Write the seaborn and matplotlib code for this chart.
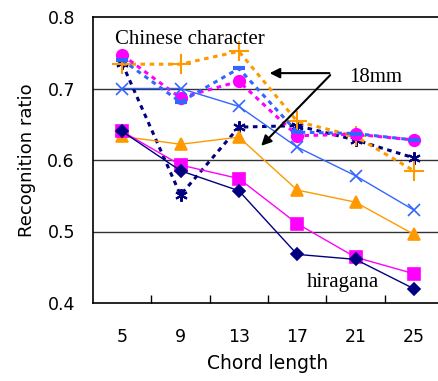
import numpy as np
import pandas as pd
import seaborn as sns
import matplotlib.pyplot as plt

chord = ["5", "9", "13", "17", "21", "25"]

# solid lines
hira_navy = [0.640, 0.585, 0.557, 0.468, 0.461, 0.420]
hira_magenta = [0.640, 0.593, 0.574, 0.511, 0.464, 0.441]
hira_orange = [0.633, 0.622, 0.632, 0.558, 0.541, 0.496]
hira_blue = [0.700, 0.700, 0.675, 0.618, 0.578, 0.530]

# dashed lines (Chinese character)
chin_navy = [0.735, 0.551, 0.646, 0.648, 0.628, 0.603]
chin_orange = [0.734, 0.734, 0.752, 0.654, 0.633, 0.585]
chin_magenta = [0.747, 0.687, 0.710, 0.634, 0.636, 0.628]
chin_blue = [0.740, 0.681, 0.728, 0.639, 0.637, 0.628]

navy = "#000080"
magenta = "#FF00FF"
orange = "#FF9900"
blue = "#3366FF"

series = [
    (chin_navy, navy, (6, 2, 0), 9, "dash"),
    (chin_orange, orange, "+", 14, "dash"),
    (chin_magenta, magenta, "o", 8, "dash"),
    (chin_blue, blue, "_", 9, "dash"),
    (hira_blue, blue, "x", 9, "solid"),
    (hira_orange, orange, "^", 9, "solid"),
    (hira_magenta, magenta, "s", 8, "solid"),
    (hira_navy, navy, "D", 6, "solid"),
]

fig = plt.figure(figsize=(4.38, 3.81), dpi=100)
ax = fig.add_axes([93 / 438, 1 - 303 / 381, 350 / 438, 286 / 381])

xs = np.arange(len(chord))
for vals, col, mk, ms, kind in series:
    df = pd.DataFrame({"x": xs, "y": vals})
    if kind == "dash":
        sns.lineplot(data=df, x="x", y="y", ax=ax, color=col, lw=2.2,
                     linestyle=(0, (1.5, 1.5)), marker=mk, markersize=ms,
                     markeredgewidth=1.5 if mk != "_" else 3,
                     markerfacecolor=col, markeredgecolor=col)
    else:
        sns.lineplot(data=df, x="x", y="y", ax=ax, color=col, lw=1.0,
                     marker=mk, markersize=ms, markeredgewidth=1.2,
                     markerfacecolor=col, markeredgecolor=col)

ax.set_xlim(-0.5, 5.5)
ax.set_ylim(0.4, 0.8)
ax.set_yticks([0.4, 0.5, 0.6, 0.7, 0.8])
ax.set_yticklabels(["0.4", "0.5", "0.6", "0.7", "0.8"])
ax.set_xticks(xs)
ax.set_xticklabels(chord)
ax.set_xticks(xs[:-1] + 0.5, minor=True)
ax.tick_params(axis="x", which="major", length=0, pad=18, labelsize=12.5)
ax.tick_params(axis="x", which="minor", length=6, direction="in", width=1)
ax.tick_params(axis="y", length=0, pad=13, labelsize=12.5)
for yv in [0.5, 0.6, 0.7]:
    ax.axhline(yv, color="#333333", lw=1.0, zorder=0)
for s in ["left", "bottom", "top"]:
    ax.spines[s].set_linewidth(1.2)
ax.spines["right"].set_visible(False)

ax.set_xlabel("Chord length", fontsize=13.5, labelpad=6)
ax.set_ylabel("Recognition ratio", fontsize=13, labelpad=8)

serif = "Liberation Serif"
ax.text(-0.12, 0.768, "Chinese character", family=serif, fontsize=15, va="center")
ax.text(3.9, 0.715, "18mm", family=serif, fontsize=15, va="center")
ax.text(3.17, 0.428, "hiragana", family=serif, fontsize=15, va="center")
ax.annotate("", xy=(2.48, 0.7215), xytext=(3.6, 0.7215),
            arrowprops=dict(arrowstyle="-|>", color="black", lw=1.5, mutation_scale=15))
ax.annotate("", xy=(2.35, 0.617), xytext=(3.6, 0.7215),
            arrowprops=dict(arrowstyle="-|>", color="black", lw=1.5, mutation_scale=15))

fig.savefig("out.png", dpi=100)
